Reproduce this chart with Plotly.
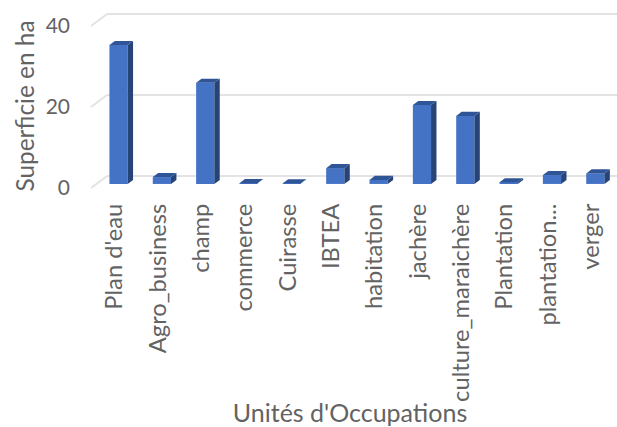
import plotly.graph_objects as go

categories = ["Plan d'eau", "Agro_business", "champ", "commerce", "Cuirasse", "IBTEA",
              "habitation", "jachère", "culture_maraichère", "Plantation", "plantation...", "verger"]
surface_ha = [34.3, 1.7, 25.0, 0.2, 0.15, 3.9, 1.0, 19.5, 16.8, 0.4, 2.2, 2.6]
y_ticks = [0, 20, 40]
y_title = "Superficie en ha"
x_title = "Unités d'Occupations"

FONT = "Lato, Carlito, Calibri, sans-serif"
TEXT = "#636363"
FRONT, SIDE, TOP = "#4472c4", "#264478", "#2f5597"
GRID = "#e3e3e3"
BAR_W = 0.42
BASE = 1.0         # bars stand slightly behind the front edge of the floor
DX, DY = 0.125, 1.0   # bar extrusion (category units, value units)
WALL_X0 = -0.635
WALL_DX, WALL_DY = 0.37, 2.96  # wall depth
XMIN, XMAX = -0.82, 11.5

idx = list(range(len(categories)))
fig = go.Figure()

fig.add_trace(go.Bar(x=idx, y=surface_ha, base=[BASE] * len(idx), width=BAR_W,
                     marker=dict(color=FRONT, line=dict(width=0)), hoverinfo="skip"))

for i, v in zip(idx, surface_ha):
    r = i + BAR_W / 2
    l = i - BAR_W / 2
    top = BASE + v
    fig.add_trace(go.Scatter(x=[r, r + DX, r + DX, r, r], y=[BASE, BASE + DY, top + DY, top, BASE],
                             mode="lines", fill="toself", fillcolor=SIDE, line=dict(width=0),
                             hoverinfo="skip"))
    fig.add_trace(go.Scatter(x=[l, l + DX, r + DX, r, l], y=[top, top + DY, top + DY, top, top],
                             mode="lines", fill="toself", fillcolor=TOP, line=dict(width=0),
                             hoverinfo="skip"))

shapes = []
for t in y_ticks:
    for x0, y0, x1, y1 in [(WALL_X0, t, WALL_X0 + WALL_DX, t + WALL_DY),
                           (WALL_X0 + WALL_DX, t + WALL_DY, XMAX, t + WALL_DY)]:
        shapes.append(dict(type="line", xref="x", yref="y", x0=x0, y0=y0, x1=x1, y1=y1,
                           layer="below", line=dict(color=GRID, width=2)))

fig.update_layout(
    width=617, height=427, autosize=False,
    margin=dict(l=83, r=0, t=0, b=215),
    paper_bgcolor="white", plot_bgcolor="white",
    showlegend=False, shapes=shapes,
    font=dict(family=FONT, color=TEXT, size=18),
    xaxis=dict(range=[XMIN, XMAX], tickvals=[i - 0.09 for i in idx], ticktext=categories,
               tickangle=-90, showgrid=False, zeroline=False, showline=False, ticks="",
               tickfont=dict(size=23.7, color=TEXT, family=FONT), automargin=False,
               ticklabelstandoff=-14,
               title=dict(text=x_title, font=dict(size=25, color=TEXT, family=FONT), standoff=4)),
    yaxis=dict(range=[-5.93, 46.42], tickvals=y_ticks, showgrid=False, zeroline=False, showline=False,
               ticks="", tickfont=dict(size=21, color=TEXT, family=FONT), automargin=False,
               ticklabelstandoff=12,
               title=dict(text=y_title, font=dict(size=24.4, color=TEXT, family=FONT), standoff=4)),
)
fig.write_html("out.html", post_script="document.body.style.margin='0';",
               config={"displayModeBar": False})
